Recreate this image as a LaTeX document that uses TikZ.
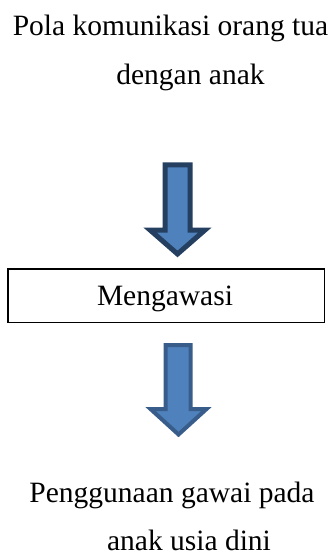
\documentclass[tikz,border=0pt]{standalone}
\usepackage{fontspec}
\setmainfont{Liberation Serif}
\definecolor{arrowfill}{HTML}{4F81BD}
\definecolor{arrowdark}{HTML}{243F60}
\definecolor{arrowedge}{HTML}{385D8A}
\begin{document}
\begin{tikzpicture}[x=1pt,y=1pt,
  txt/.style={inner sep=0pt,anchor=base,font=\fontsize{29.5}{35}\selectfont},
  blockarrow/.style={fill=arrowfill,line join=miter}]
\useasboundingbox(0,0) rectangle (330,-556);
\node[txt](pola1) at (170.5,-36) {Pola komunikasi orang tua};
\node[txt](pola2) at (190.5,-85) {dengan anak};
\draw[blockarrow,draw=arrowdark,line width=5](165,-165)--(190,-165)--(190,-230)--(205,-230)
  --(177.5,-254)--(150,-230)--(165,-230)--cycle;
\draw[line width=1.5](7.75,-268.75) rectangle (324.25,-322.25);
\node[txt](awasi) at (165,-305) {Mengawasi};
\draw[blockarrow,draw=arrowedge,line width=4](165.5,-345)--(190.5,-345)--(190.5,-409)--(206.5,-409)
  --(178.5,-434.5)--(150.5,-409)--(165.5,-409)--cycle;
\node[txt](guna1) at (172,-502) {Penggunaan gawai pada};
\node[txt](guna2) at (189,-550) {anak usia dini};
\end{tikzpicture}
\end{document}
